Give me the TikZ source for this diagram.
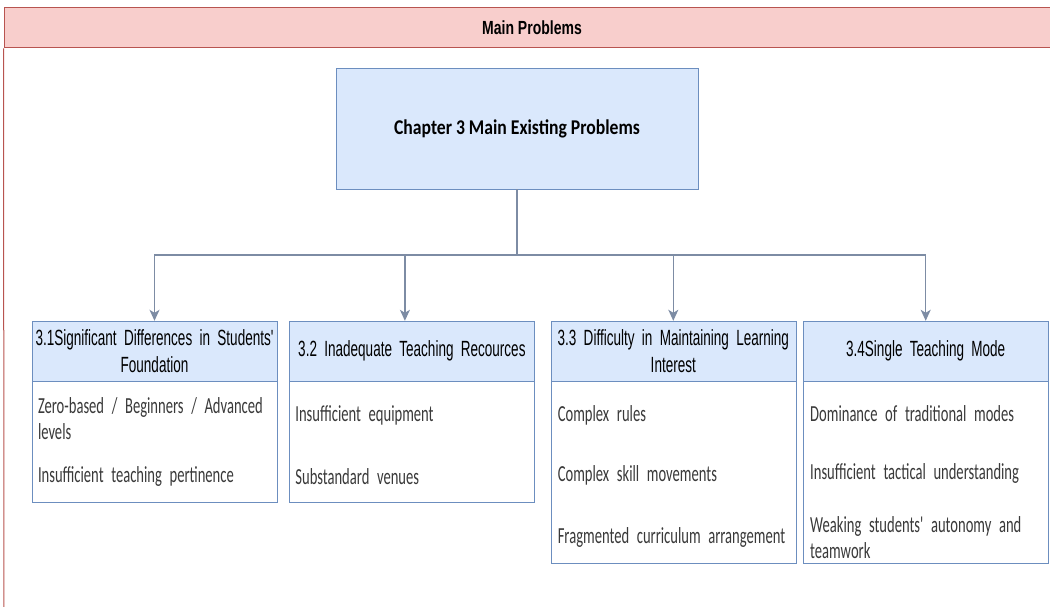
\documentclass[tikz,border=0pt]{standalone}
\usepackage{fontspec}
\setmainfont{Carlito}
\newfontfamily\hdrfont[FakeStretch=0.615]{Liberation Sans}
\newfontfamily\lanefont[FakeStretch=0.737]{Liberation Sans}
\newfontfamily\itemfont[FakeStretch=0.634]{Carlito}
\newfontfamily\titlefont[FakeStretch=0.84]{Carlito}
\usetikzlibrary{positioning,arrows.meta}

\newcommand\lanesize{\lanefont\bfseries\fontsize{19}{22}\selectfont}
\newcommand\titlesize{\titlefont\bfseries\fontsize{21}{26}\selectfont}
\newcommand\hdrsize{\hdrfont\fontsize{22}{27}\selectfont\spaceskip=3.5pt\relax}
\newcommand\itemsize{\itemfont\fontsize{23}{26}\selectfont\spaceskip=3.5pt\relax}

\definecolor{laneborder}{HTML}{B85450}
\definecolor{lanefill}{HTML}{F8CECC}
\definecolor{boxfill}{HTML}{DAE8FC}
\definecolor{boxborder}{HTML}{6C8EBF}
\definecolor{edgecol}{HTML}{7D8CA4}
\definecolor{itemtext}{HTML}{3A3A3A}

\tikzset{
  lane/.style={rectangle, draw=laneborder, fill=lanefill, line width=1pt, minimum width=1056pt, minimum height=40pt, inner sep=0pt, font=\lanesize},
  chapter/.style={rectangle, draw=boxborder, fill=boxfill, minimum width=362pt, minimum height=121pt, font=\titlesize},
  head/.style={rectangle, draw=boxborder, fill=boxfill, minimum width=245pt, minimum height=60pt, text width=243pt, align=center, inner sep=0pt, font=\hdrsize},
  body/.style={rectangle, draw=boxborder, fill=white, minimum width=245pt, inner sep=0pt},
  item/.style={anchor=west, text width=236pt, align=left, inner sep=0pt, text=itemtext, font=\itemsize},
  arrow/.style={-{Stealth[length=11pt,width=10pt,inset=3pt]}, draw=edgecol, line width=1.3pt},
}

\begin{document}
\begin{tikzpicture}[x=1pt, y=1pt, node distance=12pt]
  \useasboundingbox (0,0) rectangle (1050,607);

  % Swimlane frame
  \begin{scope}
    \clip (0,0) rectangle (1050,607);
    \node[lane] (lane) at (532,579) {Main Problems};
    \draw[laneborder, line width=1pt] (lane.south west) -- (4,-5);
  \end{scope}

  % Chapter box
  \node[chapter] (chap) at (517,478.5) {Chapter 3 Main Existing Problems};

  % Section headers
  \node[head] (h1) at (154.5,256) {3.1Significant Differences in Students'\\Foundation};
  \node[head, right=12pt of h1] (h2) {3.2 Inadequate Teaching Recources};
  \node[head, right=16pt of h2] (h3) {3.3 Difficulty in Maintaining Learning\\Interest};
  \node[head, right=7pt of h3]  (h4) {3.4Single Teaching Mode};

  % Section bodies
  \node[body, below=0pt of h1, minimum height=121pt] (b1) {};
  \node[body, below=0pt of h2, minimum height=121pt] (b2) {};
  \node[body, below=0pt of h3, minimum height=182pt] (b3) {};
  \node[body, below=0pt of h4, minimum height=182pt] (b4) {};

  % Items
  \node[item] (i1a) at ([xshift=6pt,yshift=-37.5pt]b1.north west) {Zero-based / Beginners / Advanced\\levels};
  \node[item] (i1b) at ([xshift=6pt,yshift=-95pt]b1.north west) {Insufficient teaching pertinence};
  \node[item] (i2a) at ([xshift=6pt,yshift=-34pt]b2.north west) {Insufficient equipment};
  \node[item] (i2b) at ([xshift=6pt,yshift=-95pt]b2.north west) {Substandard venues};
  \node[item] (i3a) at ([xshift=7pt,yshift=-34pt]b3.north west) {Complex rules};
  \node[item] (i3b) at ([xshift=7pt,yshift=-94pt]b3.north west) {Complex skill movements};
  \node[item] (i3c) at ([xshift=7pt,yshift=-156pt]b3.north west) {Fragmented curriculum arrangement};
  \node[item] (i4a) at ([xshift=7pt,yshift=-32pt]b4.north west) {Dominance of traditional modes};
  \node[item] (i4b) at ([xshift=7pt,yshift=-92pt]b4.north west) {Insufficient tactical understanding};
  \node[item] (i4c) at ([xshift=7pt,yshift=-156pt]b4.north west) {Weaking students' autonomy and\\teamwork};

  % Connectors
  \coordinate (split) at (517,352);
  \draw[arrow] (chap.south) -- (split) -| (h1.north);
  \draw[arrow] (split) -| ([xshift=-7pt]h2.north);
  \draw[arrow] (split) -| (h3.north);
  \draw[arrow] (split) -| (h4.north);
\end{tikzpicture}
\end{document}
